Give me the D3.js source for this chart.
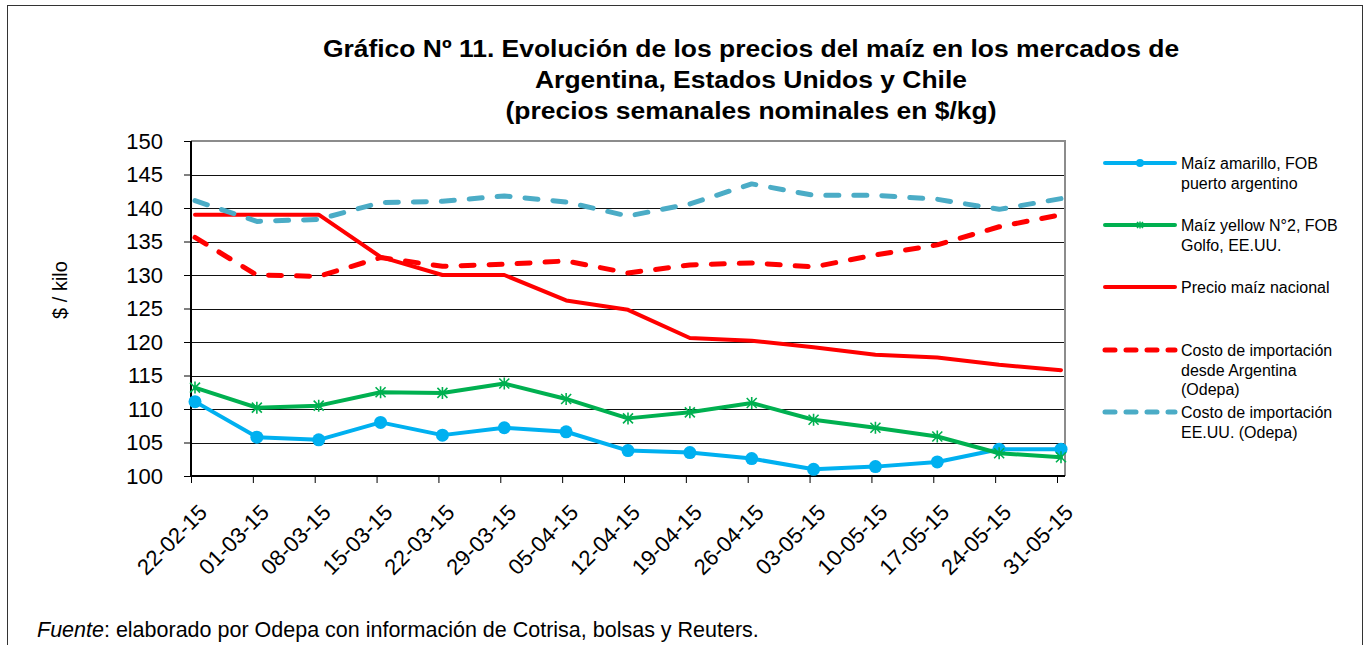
<!DOCTYPE html>
<html>
<head>
<meta charset="utf-8">
<script src="https://cdn.jsdelivr.net/npm/d3@7/dist/d3.min.js"></script>
<style>
  body { margin: 0; background: #fff; }
  text { font-family: "Liberation Sans", Arial, sans-serif; fill: #000; }
</style>
</head>
<body>
<div id="chart"></div>
<script>
var width = 1370, height = 645;

// weekly dates
var weeks = ["22-02-15", "01-03-15", "08-03-15", "15-03-15", "22-03-15", "29-03-15", "05-04-15",
  "12-04-15", "19-04-15", "26-04-15", "03-05-15", "10-05-15", "17-05-15", "24-05-15", "31-05-15"];

// $/kg
var amarilloFob = [111.1, 105.8, 105.4, 108.0, 106.1, 107.2, 106.6, 103.8, 103.5, 102.6, 101.0, 101.4, 102.1, 104.0, 104.0];
var yellowGolfo = [113.2, 110.2, 110.5, 112.5, 112.4, 113.8, 111.5, 108.6, 109.5, 110.9, 108.4, 107.2, 105.9, 103.4, 102.8];
var precioNacional = [139.0, 139.0, 139.0, 132.7, 130.0, 130.0, 126.2, 124.8, 120.6, 120.2, 119.2, 118.1, 117.7, 116.6, 115.8];
var costoArgentina = [135.6, 130.0, 129.8, 132.6, 131.3, 131.6, 132.1, 130.3, 131.5, 131.8, 131.2, 133.0, 134.5, 137.2, 139.0];
var costoEEUU = [141.1, 138.0, 138.3, 140.8, 141.0, 141.8, 140.9, 138.8, 140.6, 143.6, 141.9, 141.9, 141.3, 139.8, 141.4];

var yTicks = d3.range(100, 151, 5);

var series = [
  { name: ["Maíz amarillo, FOB", "puerto argentino"], values: amarilloFob, color: "#00b0f0", dash: null, marker: "circle", ly: 163 },
  { name: ["Maíz yellow N°2, FOB", "Golfo, EE.UU."], values: yellowGolfo, color: "#00b050", dash: null, marker: "star", ly: 225 },
  { name: ["Precio maíz nacional"], values: precioNacional, color: "#ff0000", dash: null, marker: null, ly: 287 },
  { name: ["Costo de importación", "desde Argentina", "(Odepa)"], values: costoArgentina, color: "#ff0000", dash: "13,15", marker: null, ly: 350 },
  { name: ["Costo de importación", "EE.UU. (Odepa)"], values: costoEEUU, color: "#4bacc6", dash: "13,15", marker: null, ly: 412 }
];

var svg = d3.select("#chart").append("svg")
  .attr("width", width)
  .attr("height", height);

// outer frame
svg.append("rect")
  .attr("x", 7.5).attr("y", 5.5)
  .attr("width", 1355).attr("height", 700)
  .attr("fill", "none").attr("stroke", "#333").attr("stroke-width", 1);

var plot = { left: 191, right: 1065, top: 141, bottom: 476 };

var x = d3.scalePoint().domain(weeks).range([195, 1061]);
var y = d3.scaleLinear().domain([100, 150]).range([plot.bottom, plot.top]);

// title (the original font is a bit wider than Arial)
var title = svg.append("text")
  .attr("transform", "translate(751,0) scale(1.08,1)")
  .attr("text-anchor", "middle")
  .attr("font-size", 24.5)
  .attr("font-weight", "bold");
["Gráfico Nº 11. Evolución de los precios del maíz en los mercados de",
 "Argentina, Estados Unidos y Chile",
 "(precios semanales nominales en $/kg)"].forEach(function(t, i) {
  title.append("tspan").attr("x", 0).attr("y", 57 + i * 31).text(t);
});

// gridlines
svg.append("g")
  .selectAll("line")
  .data(yTicks.filter(function(v) { return v > 100 && v < 150; }))
  .enter().append("line")
  .attr("x1", plot.left).attr("x2", plot.right)
  .attr("y1", function(d) { return Math.round(y(d)) + 0.5; })
  .attr("y2", function(d) { return Math.round(y(d)) + 0.5; })
  .attr("stroke", "#111").attr("stroke-width", 1);

// plot border (gray top/right)
svg.append("path")
  .attr("d", "M" + plot.left + "," + plot.top + "H" + plot.right + "V" + plot.bottom)
  .attr("fill", "none").attr("stroke", "#8c8c8c").attr("stroke-width", 2);

// y axis
var yAxis = svg.append("g")
  .attr("transform", "translate(" + plot.left + ",0)")
  .call(d3.axisLeft(y).tickValues(yTicks).tickSize(7).tickPadding(21));
yAxis.selectAll("text").attr("font-size", 22).attr("font-family", "Liberation Sans, Arial, sans-serif");
yAxis.selectAll("line").attr("stroke", "#000");
yAxis.select(".domain").attr("stroke", "#000").attr("stroke-width", 2).attr("d", "M0," + plot.top + "V" + plot.bottom);

// x axis (ticks sit a few px left of the points, as in the original)
var xAxis = svg.append("g")
  .attr("transform", "translate(-4," + plot.bottom + ")")
  .call(d3.axisBottom(x).tickSize(7).tickPadding(0));
xAxis.select(".domain").attr("stroke", "#000").attr("stroke-width", 2).attr("d", "M" + (plot.left + 4) + ",0H" + (plot.right + 4));
xAxis.selectAll("line").attr("stroke", "#000");
xAxis.selectAll("text")
  .attr("font-size", 22)
  .attr("font-family", "Liberation Sans, Arial, sans-serif")
  .attr("text-anchor", "end")
  .attr("dy", null)
  .attr("transform", "translate(12,33) rotate(-45)");

// y label
svg.append("text")
  .attr("transform", "translate(67,290) rotate(-90)")
  .attr("text-anchor", "middle")
  .attr("font-size", 20)
  .text("$ / kilo");

// lines
var line = d3.line()
  .x(function(d, i) { return x(weeks[i]); })
  .y(function(d) { return y(d); });

function starPath(s) {
  return "M" + (-s) + "," + (-s) + "L" + s + "," + s +
    "M" + (-s) + "," + s + "L" + s + "," + (-s) +
    "M0," + (-s * 1.2) + "L0," + (s * 1.2);
}

series.forEach(function(s) {
  var g = svg.append("g");
  g.append("path")
    .attr("d", line(s.values))
    .attr("fill", "none")
    .attr("stroke", s.color)
    .attr("stroke-width", s.dash ? 5 : 4)
    .attr("stroke-linejoin", "round")
    .attr("stroke-linecap", "round")
    .attr("stroke-dasharray", s.dash);
  if (s.marker === "circle") {
    g.selectAll("circle").data(s.values).enter().append("circle")
      .attr("cx", function(d, i) { return x(weeks[i]); })
      .attr("cy", function(d) { return y(d); })
      .attr("r", 6.5)
      .attr("fill", s.color);
  } else if (s.marker === "star") {
    g.selectAll("path.m").data(s.values).enter().append("path")
      .attr("class", "m")
      .attr("transform", function(d, i) { return "translate(" + x(weeks[i]) + "," + y(d) + ")"; })
      .attr("d", starPath(5))
      .attr("stroke", s.color)
      .attr("stroke-width", 1.6)
      .attr("fill", "none");
  }
});

// legend
var legend = svg.append("g");
series.forEach(function(s) {
  var lg = legend.append("g").attr("transform", "translate(0," + s.ly + ")");
  lg.append("line")
    .attr("x1", 1105).attr("x2", 1175)
    .attr("stroke", s.color)
    .attr("stroke-width", s.dash ? 5 : 4)
    .attr("stroke-linecap", "round")
    .attr("stroke-dasharray", s.dash ? "10,11" : null);
  if (s.marker === "circle") {
    lg.append("circle").attr("cx", 1140).attr("r", 4).attr("fill", s.color);
  } else if (s.marker === "star") {
    lg.append("path").attr("transform", "translate(1140,0)").attr("d", starPath(3))
      .attr("stroke", s.color).attr("stroke-width", 1.5);
  }
  var t = lg.append("text").attr("font-size", 16);
  s.name.forEach(function(n, i) {
    t.append("tspan").attr("x", 1181).attr("y", 6 + i * 19.5).text(n);
  });
});

// source note
var note = svg.append("text")
  .attr("x", 37).attr("y", 637)
  .attr("font-size", 21.5);
note.append("tspan").attr("font-style", "italic").text("Fuente");
note.append("tspan").text(": elaborado por Odepa con información de Cotrisa, bolsas y Reuters.");
</script>
</body>
</html>
